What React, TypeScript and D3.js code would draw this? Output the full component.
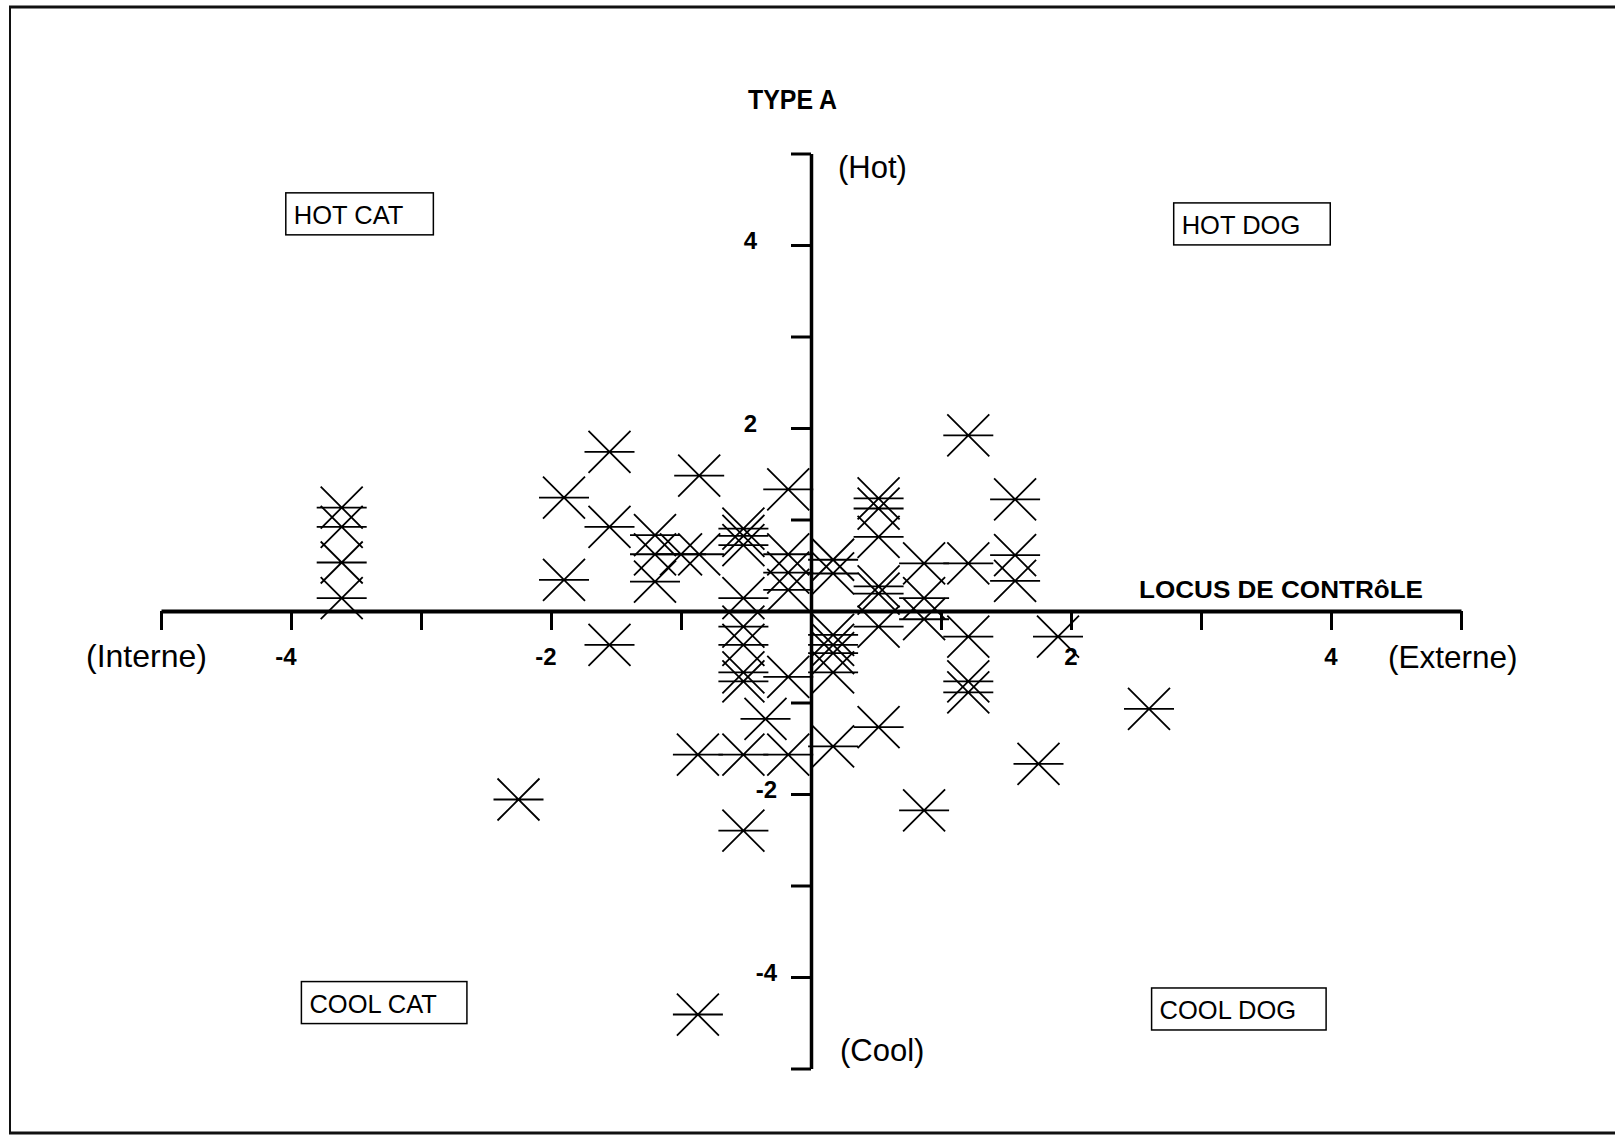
import React, { useEffect, useRef } from 'react'
import * as d3 from 'd3'

// standardized scores: [locus of control, type A]
const respondents: [number, number][] = [
  [-3.61, 1.13], [-3.61, 0.92], [-3.61, 0.53], [-3.61, 0.14],
  [-2.25, -2.06],
  [-1.9, 1.24], [-1.9, 0.34],
  [-1.55, 1.74], [-1.55, 0.92], [-1.55, -0.37],
  [-1.2, 0.83], [-1.2, 0.62], [-1.2, 0.32], [-1.0, 0.62],
  [-0.86, 1.48], [-0.86, 0.62], [-0.87, -1.57], [-0.87, -4.41],
  [-0.52, 0.9], [-0.52, 0.82], [-0.52, 0.72], [-0.52, 0.14], [-0.52, -0.17],
  [-0.52, -0.37], [-0.52, -0.67], [-0.52, -0.77], [-0.52, -1.57], [-0.52, -2.4],
  [-0.35, -1.18],
  [-0.175, 1.33], [-0.175, 0.62], [-0.175, 0.42], [-0.175, 0.23], [-0.175, -0.72], [-0.175, -1.57],
  [0.17, 0.56], [0.17, 0.41], [0.17, -0.26], [0.17, -0.37], [0.17, -0.46], [0.17, -0.67], [0.17, -1.48],
  [0.52, 1.23], [0.52, 1.12], [0.52, 0.81], [0.52, 0.27], [0.52, 0.19], [0.52, -0.17], [0.52, -1.27],
  [0.87, 0.52], [0.87, 0.14], [0.87, -0.09], [0.87, -2.18],
  [1.21, 1.92], [1.21, 0.52], [1.21, -0.28], [1.21, -0.77], [1.21, -0.89],
  [1.57, 1.22], [1.57, 0.61], [1.57, 0.33],
  [1.9, -0.28], [1.75, -1.67], [2.6, -1.07],
]

const axisTicks = d3.range(-5, 6)
const xTickLabels = [-4, -2, 2, 4]
const yTickLabels = [-4, -2, 2, 4]

// quadrant boxes, top-left corner in data units
const quadrants = [
  { label: 'HOT CAT', x: -4.04, y: 4.57 },
  { label: 'HOT DOG', x: 2.79, y: 4.46 },
  { label: 'COOL CAT', x: -3.92, y: -4.05 },
  { label: 'COOL DOG', x: 2.62, y: -4.12 },
]

const FONT = '"Liberation Sans", Arial, sans-serif'

export default function App() {
  const svgRef = useRef<SVGSVGElement>(null)

  useEffect(() => {
    if (!svgRef.current) return
    const svg = d3.select(svgRef.current)
    svg.selectAll('*').remove()

    const width = 1615
    const height = 1136

    const x = d3.scaleLinear().domain([-5, 5]).range([161, 1461])
    const y = d3.scaleLinear().domain([-5, 5]).range([1068.5, 153.5])
    const x0 = x(0)
    const y0 = y(0)

    svg.append('rect').attr('width', width).attr('height', height).attr('fill', 'white')

    // page frame
    const frame = svg.append('g').attr('stroke', '#111').attr('fill', 'none')
    frame.append('line').attr('x1', 9).attr('x2', width).attr('y1', 7).attr('y2', 7).attr('stroke-width', 3)
    frame.append('line').attr('x1', 10).attr('x2', 10).attr('y1', 6).attr('y2', 1134).attr('stroke-width', 2)
    frame.append('line').attr('x1', 9).attr('x2', width).attr('y1', 1133).attr('y2', 1133).attr('stroke-width', 3)

    // axes through the origin
    const xAxis = svg
      .append('g')
      .attr('transform', `translate(0,${y0})`)
      .call(d3.axisBottom(x).tickValues(axisTicks).tickSize(19).tickSizeOuter(0).tickFormat(() => ''))
    xAxis.select('.domain').attr('stroke', '#000').attr('stroke-width', 4)
    xAxis.selectAll('.tick line').attr('stroke', '#000').attr('stroke-width', 3)

    const yAxis = svg
      .append('g')
      .attr('transform', `translate(${x0},0)`)
      .call(d3.axisLeft(y).tickValues(axisTicks).tickSize(20).tickSizeOuter(0).tickFormat(() => ''))
    yAxis.select('.domain').attr('stroke', '#000').attr('stroke-width', 3.5)
    yAxis.selectAll('.tick line').attr('stroke', '#000').attr('stroke-width', 3)

    // tick labels
    svg
      .append('g')
      .selectAll('text')
      .data(xTickLabels)
      .join('text')
      .attr('x', (d) => x(d) - (d < 0 ? 5 : 0))
      .attr('y', y0 + 54)
      .attr('text-anchor', 'middle')
      .attr('font-family', FONT)
      .attr('font-weight', 'bold')
      .attr('font-size', 24)
      .text((d) => d)

    svg
      .append('g')
      .selectAll('text')
      .data(yTickLabels)
      .join('text')
      .attr('x', (d) => x0 - (d < 0 ? 34 : 54))
      .attr('y', (d) => y(d) + 4)
      .attr('text-anchor', 'end')
      .attr('font-family', FONT)
      .attr('font-weight', 'bold')
      .attr('font-size', 24)
      .text((d) => d)

    // axis titles and pole labels
    const txt = (tx: number, ty: number, s: string, size: number, bold = false, len?: number) => {
      const t = svg
        .append('text')
        .attr('x', tx)
        .attr('y', ty)
        .attr('font-family', FONT)
        .attr('font-size', size)
        .attr('font-weight', bold ? 'bold' : 'normal')
        .text(s)
      if (len) t.attr('textLength', len).attr('lengthAdjust', 'spacingAndGlyphs')
      return t
    }
    txt(x0 - 63, y(5) - 45, 'TYPE A', 27, true, 89)
    txt(1139, y0 - 13, 'LOCUS DE CONTRôLE', 24, true, 284)
    txt(x0 + 27, y(5) + 24, '(Hot)', 31)
    txt(x0 + 29, y(-5) - 8, '(Cool)', 31)
    txt(86, y0 + 56, '(Interne)', 32)
    txt(1388, y0 + 57, '(Externe)', 31.5)

    // quadrant boxes
    quadrants.forEach((q) => {
      const g = svg.append('g').attr('transform', `translate(${x(q.x)},${y(q.y)})`)
      const rect = g.append('rect').attr('fill', 'white').attr('stroke', '#000').attr('stroke-width', 1.5)
      const label = g
        .append('text')
        .attr('x', 8)
        .attr('y', 31)
        .attr('font-family', FONT)
        .attr('font-size', 25.5)
        .text(q.label)
      const w = (label.node() as SVGTextElement).getComputedTextLength()
      rect.attr('width', w + 38).attr('height', 42)
    })

    // asterisk-like markers: X plus a horizontal bar
    svg
      .append('g')
      .selectAll('path')
      .data(respondents)
      .join('path')
      .attr('transform', (d) => `translate(${x(d[0])},${y(d[1])})`)
      .attr('d', 'M-21,-21L21,21M-21,21L21,-21M-25,0H25')
      .attr('fill', 'none')
      .attr('stroke', '#000')
      .attr('stroke-width', 1.8)
  }, [])

  return (
    <svg
      ref={svgRef}
      width={1615}
      height={1136}
      style={{ position: 'absolute', left: 0, top: 0 }}
    />
  )
}
